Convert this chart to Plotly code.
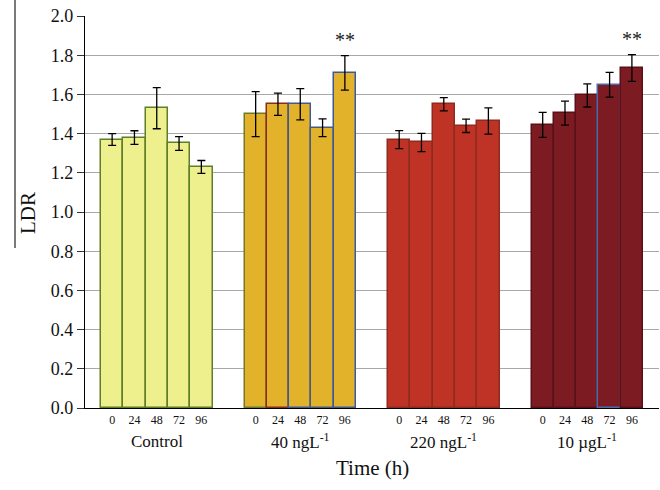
import plotly.graph_objects as go

groups = ["Control", "40 ngL<sup>-1</sup>", "220 ngL<sup>-1</sup>", "10 µgL<sup>-1</sup>"]
hours = ["0", "24", "48", "72", "96"]
control = [1.37, 1.38, 1.53, 1.35, 1.23]
control_err = [0.03, 0.035, 0.105, 0.035, 0.033]
ng40 = [1.50, 1.55, 1.55, 1.43, 1.71]
ng40_err = [0.115, 0.057, 0.08, 0.045, 0.088]
ng220 = [1.37, 1.355, 1.55, 1.44, 1.465]
ng220_err = [0.046, 0.047, 0.034, 0.034, 0.067]
ug10 = [1.445, 1.505, 1.595, 1.65, 1.735]
ug10_err = [0.064, 0.061, 0.059, 0.063, 0.068]
significant = [(1, 4), (3, 4)]  # (group index, hour index) marked **
ytick_vals = [0.0, 0.2, 0.4, 0.6, 0.8, 1.0, 1.2, 1.4, 1.6, 1.8, 2.0]

series = [control, ng40, ng220, ug10]
errors = [control_err, ng40_err, ng220_err, ug10_err]
fills = ["#EEF08E", "#E2B22B", "#BF3326", "#7C1C22"]
outlines = [
    ["#5E7F27"] * 5,
    ["#6E7A2A", "#8A2A20", "#3C5A9A", "#4A5A7A", "#3C5A9A"],
    ["#8E2A1E"] * 5,
    ["#5A1018", "#5A1018", "#5A1018", "#4A6AB0", "#5A1018"],
]

W, H = 574, 392  # plot area size in px
P = 6.435
fig = go.Figure()
tickvals, ticktext = [], []
for g in range(4):
    xs = [g * P + i for i in range(5)]
    tickvals += xs
    ticktext += hours
    fig.add_trace(go.Bar(
        x=xs, y=series[g], width=1,
        marker=dict(color=fills[g], line=dict(color=outlines[g], width=1.5)),
        error_y=dict(type="data", array=errors[g], color="black", thickness=1.3, width=4),
        showlegend=False,
    ))
    fig.add_annotation(x=g * P + 2, y=0, yref="paper", yshift=-33, text=groups[g],
                       showarrow=False, yanchor="middle",
                       font=dict(family="Liberation Serif", size=17, color="#111"))

for g, i in significant:
    fig.add_annotation(x=g * P + i, y=series[g][i] + errors[g][i] + 0.012, text="**",
                       showarrow=False, yanchor="bottom",
                       font=dict(family="Liberation Serif", size=20, color="#222"))

# axis titles
fig.add_annotation(xref="paper", yref="paper", x=-57 / W, y=(408 - 213) / H, text="LDR",
                   textangle=-90, showarrow=False, xanchor="center", yanchor="middle",
                   font=dict(family="Liberation Serif", size=21, color="#111"))
fig.add_annotation(xref="paper", yref="paper", x=(372 - 85) / W, y=-(468 - 408) / H,
                   text="Time (h)", showarrow=False, xanchor="center", yanchor="middle",
                   font=dict(family="Liberation Serif", size=21, color="#111"))

fig.add_shape(type="line", xref="paper", yref="paper", x0=-70 / W, x1=-70 / W,
              y0=(408 - 0) / H, y1=(408 - 248) / H, line=dict(color="#222", width=1.2))

fig.update_layout(
    width=660, height=490,
    margin=dict(l=85, r=1, t=16, b=82, pad=0),
    paper_bgcolor="white", plot_bgcolor="white",
    bargap=0,
    font=dict(family="Liberation Serif", color="#111"),
    xaxis=dict(range=[-1.217, 24.52], tickvals=tickvals, ticktext=ticktext,
               tickfont=dict(size=12), showgrid=False, showline=True,
               linecolor="black", linewidth=1.2, ticks="", zeroline=False,
               automargin=False),
    yaxis=dict(range=[0, 2.0005], tickvals=ytick_vals, tickformat=".1f", showgrid=True,
               gridcolor="#A8A8A8", gridwidth=1.2, showline=True, linecolor="black",
               linewidth=1.2, ticks="outside", ticklen=7, tickcolor="#333",
               tickfont=dict(size=18), zeroline=False, automargin=False,
               ticklabeloverflow="allow"),
)
fig.write_html("out.html", config={"displayModeBar": False},
               post_script="document.body.style.margin='0px';document.body.style.overflow='hidden';")
